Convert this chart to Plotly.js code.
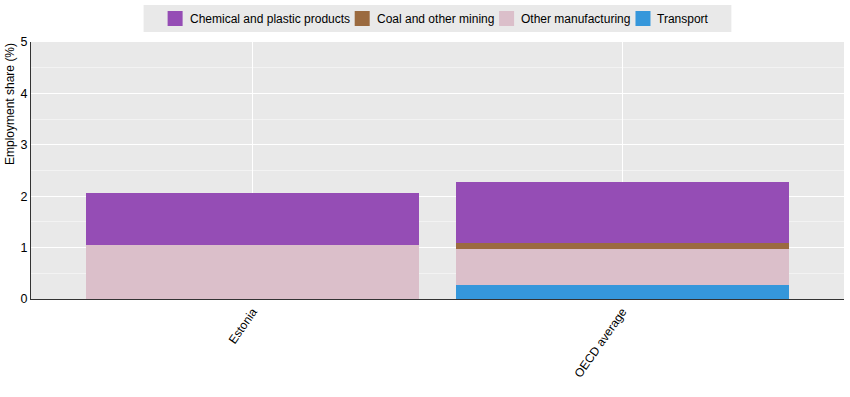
<!DOCTYPE html>
<html>
<head>
<meta charset="utf-8">
<script src="https://cdn.plot.ly/plotly-3.0.1.min.js"></script>
<style>html,body{margin:0;padding:0;background:#fff;}#chart{width:850px;height:397px;}</style>
</head>
<body>
<div id="chart"></div>
<script>
const categories = ["Estonia", "OECD average"];
const seriesNames = ["Chemical and plastic products", "Coal and other mining", "Other manufacturing", "Transport"];
const chemical = [1.01, 1.18];
const coal = [0, 0.12];
const otherManufacturing = [1.05, 0.69];
const transport = [0, 0.28];
const colors = ["#954db5", "#9b6a3f", "#dbbfca", "#3597db"];
const yTitle = "Employment share (%)";

const seriesValues = [chemical, coal, otherManufacturing, transport];

const W = 850, H = 397;
const M = {l: 31, r: 6, t: 42, b: 98};
const pw = W - M.l - M.r, ph = H - M.t - M.b;
const FONT = "Liberation Sans, Arial, sans-serif";
const FS = 12;

// bars stacked bottom-up: Transport, Other manufacturing, Coal, Chemical
const stackIdx = [3, 2, 1, 0];
const traces = stackIdx.map(i => ({
  type: "bar",
  name: seriesNames[i],
  x: categories,
  y: seriesValues[i],
  marker: {color: colors[i], line: {width: 0}},
  width: 0.9,
  showlegend: false
}));

// custom legend (measured text, square swatches)
const cv = document.createElement("canvas").getContext("2d");
cv.font = FS + "px 'Liberation Sans'";
const sw = 15, gapT = 6, gapI = 6, pad = 24;
const widths = seriesNames.map(n => cv.measureText(n).width);
const content = widths.reduce((a, w) => a + sw + gapT + w, 0) + gapI * (seriesNames.length - 1);
const total = content + 2 * pad;
const cx = M.l + pw / 2;
const bx0 = cx - total / 2, bx1 = cx + total / 2;
const by0 = 5, by1 = 32, bcy = (by0 + by1) / 2;
const px2x = p => (p - M.l) / pw;
const py2y = p => (H - M.b - p) / ph;

const shapes = [{
  type: "rect", xref: "paper", yref: "paper",
  x0: px2x(bx0), x1: px2x(bx1), y0: py2y(by1), y1: py2y(by0),
  fillcolor: "#e9e9e9", line: {width: 0}, layer: "above"
}];
const annotations = [];
let cur = bx0 + pad;
seriesNames.forEach((n, i) => {
  shapes.push({
    type: "rect", xref: "paper", yref: "paper",
    x0: px2x(cur), x1: px2x(cur + sw), y0: py2y(bcy + sw / 2), y1: py2y(bcy - sw / 2),
    fillcolor: colors[i], line: {width: 0}, layer: "above"
  });
  annotations.push({
    xref: "paper", yref: "paper", x: px2x(cur + sw + gapT), y: py2y(bcy),
    xanchor: "left", yanchor: "middle", showarrow: false, text: n,
    font: {size: FS, family: FONT, color: "#000"}, borderpad: 0
  });
  cur += sw + gapT + widths[i] + gapI;
});

// y-axis title aligned to top of plot
annotations.push({
  xref: "paper", yref: "paper", x: px2x(10), y: 1, xanchor: "center", yanchor: "top",
  textangle: -90, showarrow: false, text: yTitle,
  font: {size: FS, family: FONT, color: "#000"}, borderpad: 0
});

const layout = {
  width: W,
  height: H,
  barmode: "stack",
  margin: M,
  paper_bgcolor: "#ffffff",
  plot_bgcolor: "#e9e9e9",
  font: {family: FONT, size: 12, color: "#000"},
  showlegend: false,
  shapes: shapes,
  annotations: annotations,
  xaxis: {
    type: "category",
    range: [-0.6, 1.6],
    tickangle: -55,
    showgrid: true,
    gridcolor: "#ffffff",
    gridwidth: 1,
    showline: true,
    linecolor: "#333333",
    linewidth: 1,
    ticks: "",
    tickfont: {size: FS},
    zeroline: false,
    fixedrange: true
  },
  yaxis: {
    range: [0, 5],
    dtick: 1,
    tick0: 0,
    showgrid: true,
    gridcolor: "#ffffff",
    gridwidth: 1,
    minor: {dtick: 0.5, showgrid: true, gridcolor: "#f3f3f3", gridwidth: 1},
    showline: true,
    linecolor: "#333333",
    linewidth: 1,
    ticks: "",
    zeroline: false,
    tickfont: {size: 12.5},
    fixedrange: true
  }
};

Plotly.newPlot("chart", traces, layout, {displayModeBar: false, responsive: false});
</script>
</body>
</html>
